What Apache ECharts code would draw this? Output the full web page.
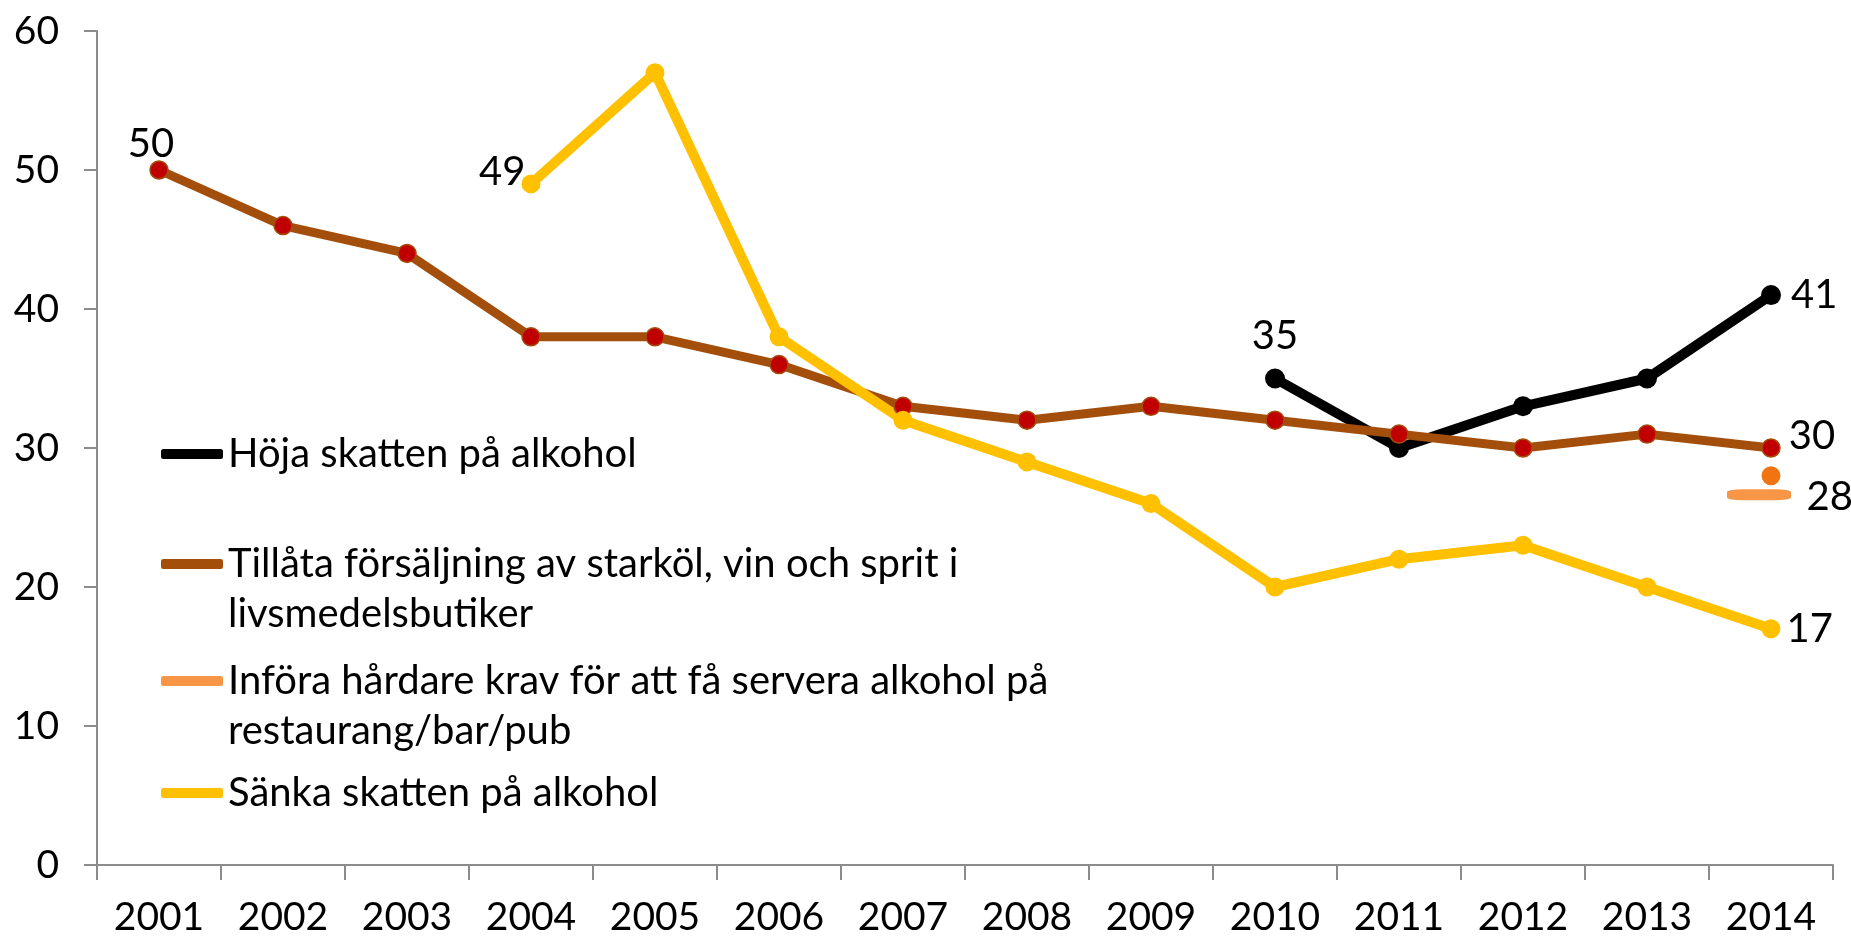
<!DOCTYPE html>
<html>
<head>
<meta charset="utf-8">
<script src="https://cdn.jsdelivr.net/npm/echarts@6/dist/echarts.min.js"></script>
<style>
html,body{margin:0;padding:0;background:#fff;}
#chart{width:1851px;height:939px;}
</style>
</head>
<body>
<div id="chart"></div>
<script>
var years = ['2001','2002','2003','2004','2005','2006','2007','2008','2009','2010','2011','2012','2013','2014'];
var hojaSkatten = [null,null,null,null,null,null,null,null,null,35,30,33,35,41];
var tillataForsaljning = [50,46,44,38,38,36,33,32,33,32,31,30,31,30];
var inforaKrav = [null,null,null,null,null,null,null,null,null,null,null,null,null,28];
var sankaSkatten = [null,null,null,49,57,38,32,29,26,20,22,23,20,17];
var yTicks = [0,10,20,30,40,50,60];

var names = {
	hoja: 'Höja skatten på alkohol',
	tillata: 'Tillåta försäljning av starköl, vin och sprit i livsmedelsbutiker',
	infora: 'Införa hårdare krav för att få servera alkohol på restaurang/bar/pub',
	sanka: 'Sänka skatten på alkohol'
};
// tom första rad så att ikonen hamnar vid första textraden
var legendText = {};
legendText[names.hoja] = 'Höja skatten på alkohol';
legendText[names.tillata] = ' \nTillåta försäljning av starköl, vin och sprit i\nlivsmedelsbutiker';
legendText[names.infora] = ' \nInföra hårdare krav för att få servera alkohol på\nrestaurang/bar/pub';
legendText[names.sanka] = 'Sänka skatten på alkohol';

var FONT = 'Lato';
var FS = 40;
var labelBase = {show:true, color:'#000', fontFamily:FONT, fontSize:FS};

//bygger datapunkter, med etikett på utvalda index
function buildData(values, labels){
	return values.map(function(v, i){
		if (v === null) return null;
		if (labels[i]) return {value:v, label:Object.assign({}, labelBase, labels[i])};
		return v;
	});
}

function makeLegend(name, iconColor, top){
	return {
		data:[{name:name, itemStyle:{color:iconColor, borderWidth:0}}],
		left:161,
		top:top,
		orient:'vertical',
		padding:0,
		icon:'roundRect',
		itemWidth:62,
		itemHeight:10,
		selectedMode:false,
		formatter:function(n){ return legendText[n]; },
		textStyle:{color:'#000', fontFamily:FONT, fontSize:FS, lineHeight:50}
	};
}

var chart = echarts.init(document.getElementById('chart'));
chart.setOption({
	animation:false,
	textStyle:{fontFamily:FONT},
	legend:[
		makeLegend(names.hoja, '#000000', 429),
		makeLegend(names.tillata, '#a44e0c', 489),
		makeLegend(names.infora, '#f79646', 606),
		makeLegend(names.sanka, '#ffc000', 768)
	],
	grid:{left:97, right:18, top:31, bottom:74},
	xAxis:{
		type:'category',
		data:years,
		boundaryGap:true,
		axisLine:{show:true, lineStyle:{color:'#8c8c8c', width:2}},
		axisTick:{show:true, length:15, lineStyle:{color:'#8c8c8c', width:2}},
		axisLabel:{color:'#000', fontFamily:FONT, fontSize:39, margin:33}
	},
	yAxis:{
		type:'value',
		min:yTicks[0],
		max:yTicks[yTicks.length-1],
		interval:10,
		splitLine:{show:false},
		axisLine:{show:true, lineStyle:{color:'#8c8c8c', width:2}},
		axisTick:{show:true, length:13, lineStyle:{color:'#8c8c8c', width:2}},
		axisLabel:{color:'#000', fontFamily:FONT, fontSize:39, margin:38}
	},
	series:[
		{
			name:names.hoja,
			type:'line',
			data:buildData(hojaSkatten, {9:{position:'top', distance:12}, 13:{position:'right', distance:10}}),
			symbol:'circle',
			symbolSize:20,
			color:'#000000',
			lineStyle:{width:10, color:'#000000'},
			itemStyle:{color:'#000000'}
		},
		{
			name:names.tillata,
			type:'line',
			data:buildData(tillataForsaljning, {0:{position:'top', distance:2, offset:[-8,6]}, 13:{position:'right', distance:8, offset:[0,-12]}}),
			symbol:'circle',
			symbolSize:18,
			color:'#a44e0c',
			lineStyle:{width:9, color:'#a44e0c'},
			itemStyle:{color:'#c00000', borderColor:'#a44e0c', borderWidth:1.5}
		},
		{
			name:names.infora,
			type:'line',
			data:buildData(inforaKrav, {13:{position:'right', distance:8, offset:[18,21]}}),
			symbol:'circle',
			symbolSize:19,
			color:'#f79646',
			lineStyle:{width:9, color:'#f79646'},
			itemStyle:{color:'#f07412'},
			markPoint:{
				symbol:'roundRect',
				symbolSize:[64,11],
				symbolOffset:[-12,19],
				silent:true,
				label:{show:false},
				itemStyle:{color:'#f79646', borderWidth:0},
				data:[{coord:[years[13], inforaKrav[13]]}]
			}
		},
		{
			name:names.sanka,
			type:'line',
			data:buildData(sankaSkatten, {3:{position:'left', distance:-4, offset:[0,-12]}, 13:{position:'right', distance:6}}),
			symbol:'circle',
			symbolSize:19,
			color:'#ffc000',
			lineStyle:{width:10, color:'#ffc000'},
			itemStyle:{color:'#ffc000'}
		}
	]
});
</script>
</body>
</html>
